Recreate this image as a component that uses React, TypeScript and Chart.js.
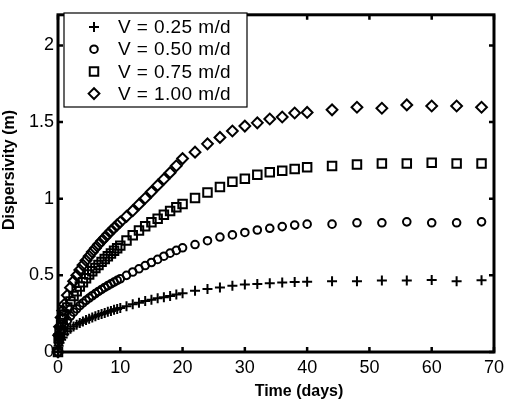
import { useEffect, useRef } from "react";
import { Chart, registerables } from "chart.js";
import { drawPoint } from "chart.js/helpers";

Chart.register(...registerables);

// Sampling times (days)
const times = [
  0, 0.1, 0.25, 0.5, 0.75,
  1, 1.5, 2, 2.5, 3, 3.5, 4, 4.5, 5, 5.5, 6, 6.5, 7, 7.5, 8, 8.5, 9, 9.5, 10,
  11, 12, 13, 14, 15, 16, 17, 18, 19, 20,
  22, 24, 26, 28, 30, 32, 34, 36, 38, 40,
  44, 48, 52, 56, 60, 64, 68,
];

// Dispersivity (m) for each seepage velocity
const dispV025 = [
  0, 0.04, 0.06, 0.08, 0.095,
  0.115, 0.135, 0.152, 0.166, 0.178, 0.189, 0.199, 0.208, 0.217, 0.225, 0.233, 0.241, 0.248, 0.255, 0.262, 0.268, 0.275, 0.281, 0.287,
  0.298, 0.311, 0.322, 0.332, 0.341, 0.35, 0.358, 0.366, 0.375, 0.383,
  0.4, 0.411, 0.421, 0.432, 0.44, 0.443, 0.449, 0.453, 0.457, 0.458,
  0.462, 0.462, 0.466, 0.466, 0.47, 0.462, 0.468,
];
const dispV050 = [
  0, 0.06, 0.09, 0.125, 0.15,
  0.172, 0.205, 0.235, 0.26, 0.282, 0.302, 0.32, 0.337, 0.352, 0.367, 0.381, 0.395, 0.408, 0.421, 0.433, 0.445, 0.456, 0.467, 0.478,
  0.5, 0.522, 0.543, 0.564, 0.584, 0.604, 0.625, 0.645, 0.663, 0.68,
  0.701, 0.726, 0.75, 0.764, 0.78, 0.796, 0.807, 0.818, 0.828, 0.834,
  0.834, 0.843, 0.843, 0.849, 0.843, 0.843, 0.849,
];
const dispV075 = [
  0, 0.09, 0.135, 0.18, 0.215,
  0.245, 0.29, 0.33, 0.365, 0.397, 0.427, 0.455, 0.481, 0.505, 0.527, 0.548, 0.568, 0.588, 0.607, 0.625, 0.643, 0.66, 0.677, 0.694,
  0.728, 0.762, 0.793, 0.82, 0.846, 0.87, 0.895, 0.92, 0.944, 0.966,
  1.004, 1.04, 1.076, 1.11, 1.131, 1.156, 1.173, 1.182, 1.194, 1.205,
  1.213, 1.224, 1.23, 1.23, 1.234, 1.23, 1.23,
];
const dispV100 = [
  0, 0.11, 0.165, 0.225, 0.27,
  0.31, 0.37, 0.42, 0.462, 0.5, 0.535, 0.567, 0.597, 0.625, 0.652, 0.677, 0.701, 0.724, 0.746, 0.768, 0.789, 0.809, 0.829, 0.848,
  0.885, 0.922, 0.963, 1.003, 1.045, 1.087, 1.128, 1.17, 1.215, 1.262,
  1.304, 1.358, 1.4, 1.442, 1.474, 1.495, 1.52, 1.533, 1.559, 1.563,
  1.58, 1.597, 1.59, 1.612, 1.605, 1.605, 1.597,
];

const seriesLabels = ["V = 0.25 m/d", "V = 0.50 m/d", "V = 0.75 m/d", "V = 1.00 m/d"];
const xTicks = [0, 10, 20, 30, 40, 50, 60, 70];
const yTicks = [0, 0.5, 1, 1.5, 2];
const xTitle = "Time (days)";
const yTitle = "Dispersivity (m)";

const FONT = "'Liberation Sans', Arial, Helvetica, sans-serif";

const markers = [
  { pointStyle: "cross", radius: 5 },
  { pointStyle: "circle", radius: 3.8 },
  { pointStyle: "rect", radius: 6 },
  { pointStyle: "rectRot", radius: 5.4 },
];

// Box frame with inward ticks on all four sides, axis titles and an inset legend
const matlabFrame = {
  id: "matlabFrame",
  afterDraw(chart: any) {
    const { ctx, chartArea, scales } = chart;
    const { left, right, top, bottom } = chartArea;
    const xs = scales.x;
    const ys = scales.y;
    ctx.save();
    ctx.strokeStyle = "#000";
    ctx.fillStyle = "#000";

    // ticks
    ctx.lineWidth = 2.5;
    const tl = 5;
    ctx.beginPath();
    for (const t of xTicks) {
      const px = xs.getPixelForValue(t);
      ctx.moveTo(px, bottom);
      ctx.lineTo(px, bottom - tl);
      ctx.moveTo(px, top);
      ctx.lineTo(px, top + tl);
    }
    for (const t of yTicks) {
      const py = ys.getPixelForValue(t);
      ctx.moveTo(left, py);
      ctx.lineTo(left + tl, py);
      ctx.moveTo(right, py);
      ctx.lineTo(right - tl, py);
    }
    ctx.stroke();

    // frame
    ctx.lineWidth = 3;
    ctx.strokeRect(left, top, right - left, bottom - top);

    // axis titles
    ctx.font = `bold 16px ${FONT}`;
    ctx.textAlign = "center";
    ctx.textBaseline = "middle";
    ctx.fillText(xTitle, 299, 392);
    ctx.save();
    ctx.translate(10, 170);
    ctx.rotate(-Math.PI / 2);
    ctx.fillText(yTitle, 0, 0);
    ctx.restore();

    // legend
    const lx = 64, ly = 13, lw = 183, lh = 94;
    ctx.fillStyle = "#fff";
    ctx.fillRect(lx, ly, lw, lh);
    ctx.lineWidth = 1.2;
    ctx.strokeStyle = "#000";
    ctx.strokeRect(lx, ly, lw, lh);
    ctx.font = `19px ${FONT}`;
    (ctx as any).letterSpacing = "0.4px";
    ctx.textAlign = "left";
    ctx.textBaseline = "middle";
    chart.data.datasets.forEach((ds: any, i: number) => {
      const rowY = ly + 14 + i * 22.2;
      ctx.lineWidth = ds.borderWidth;
      ctx.strokeStyle = "#000";
      ctx.fillStyle = "rgba(0,0,0,0)";
      drawPoint(ctx, { pointStyle: ds.pointStyle, radius: ds.pointRadius, rotation: 0, borderWidth: ds.borderWidth }, lx + 30, rowY);
      ctx.fillStyle = "#000";
      ctx.fillText(ds.label, lx + 54, rowY + 1);
    });
    ctx.restore();
  },
};

export default function App() {
  const ref = useRef<HTMLCanvasElement | null>(null);

  useEffect(() => {
    if (!ref.current) return;
    const series = [dispV025, dispV050, dispV075, dispV100];
    const chart = new Chart(ref.current, {
      type: "scatter",
      data: {
        datasets: series.map((vals, i) => ({
          label: seriesLabels[i],
          data: times.map((t, j) => ({ x: t, y: vals[j] })),
          pointStyle: markers[i].pointStyle as any,
          pointRadius: markers[i].radius,
          pointHoverRadius: markers[i].radius,
          borderColor: "#000",
          backgroundColor: "rgba(0,0,0,0)",
          borderWidth: 2,
          showLine: false,
          clip: false as any,
        })),
      },
      options: {
        responsive: false,
        animation: false,
        layout: { padding: { left: 0, top: 5, right: 12, bottom: 0 } },
        plugins: {
          legend: { display: false },
          tooltip: { enabled: false },
        },
        scales: {
          x: {
            type: "linear",
            min: 0,
            max: 70,
            grid: { display: false, drawTicks: false },
            border: { display: false },
            afterFit: (s: any) => {
              s.height = 50;
            },
            afterBuildTicks: (s: any) => {
              s.ticks = xTicks.map((v) => ({ value: v }));
            },
            ticks: {
              color: "#000",
              padding: 5,
              maxRotation: 0,
              font: { family: FONT, size: 18 },
              callback: (v: any) => String(v),
            },
          },
          y: {
            type: "linear",
            min: 0,
            max: 2.2,
            grid: { display: false, drawTicks: false },
            border: { display: false },
            afterFit: (s: any) => {
              s.width = 58;
            },
            afterBuildTicks: (s: any) => {
              s.ticks = yTicks.map((v) => ({ value: v }));
            },
            ticks: {
              color: "#000",
              padding: 4,
              font: { family: FONT, size: 18 },
              callback: (v: any) => String(v),
            },
          },
        },
      },
      plugins: [matlabFrame],
    });
    return () => chart.destroy();
  }, []);

  return (
    <div style={{ position: "absolute", left: 0, top: 0, width: 509, height: 402, background: "#fff" }}>
      <canvas ref={ref} width={509} height={402} style={{ display: "block" }} />
    </div>
  );
}
